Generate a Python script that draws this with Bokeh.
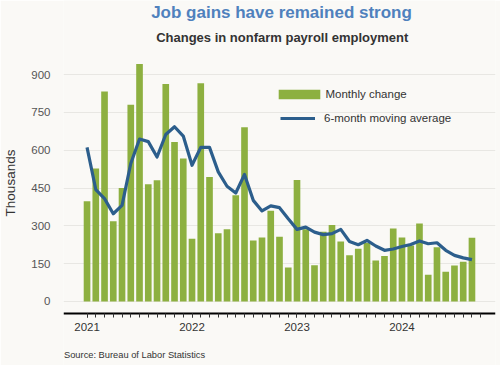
from bokeh.plotting import figure
from bokeh.models import (Range1d, FixedTicker, Legend, LegendItem, ColumnDataSource, Label)
from bokeh.embed import file_html
from bokeh.resources import INLINE

# ---- data ----
years = ["2021", "2022", "2023", "2024"]
monthly_change = [397, 527, 833, 318, 450, 780, 942, 465, 481, 862, 632, 567,
                  249, 865, 494, 271, 286, 421, 691, 242, 254, 360, 257, 135,
                  482, 286, 144, 277, 303, 238, 183, 209, 232, 163, 180, 289,
                  254, 222, 309, 106, 215, 118, 143, 158, 253]
moving_avg = [611, 444, 408, 348, 381, 547, 644, 634, 573, 662, 693, 656,
              540, 611, 611, 514, 457, 430, 504, 401, 359, 379, 372, 328,
              286, 295, 275, 265, 269, 286, 238, 225, 242, 220, 203, 208,
              218, 226, 240, 229, 233, 203, 183, 173, 166]
y_ticks = [0, 150, 300, 450, 600, 750, 900]

month_idx = list(range(len(monthly_change)))
year_ticks = [12 * i for i in range(len(years))]
src = ColumnDataSource(dict(x=month_idx, bar=monthly_change, avg=moving_avg))

BG = "#faf9f6"
GREEN = "#8db040"
BLUE = "#2c5e8c"
FONT = "Liberation Sans"
AXIS_Y = -47.6  # where the x axis line sits (data units)

# frame spans the full canvas height; titles and source sit inside it
p = figure(width=500, height=365,
           x_range=Range1d(-2.69, 46.69), y_range=Range1d(-253.8, 1193.5),
           output_backend="svg", toolbar_location=None,
           min_border_left=60, min_border_right=5, min_border_top=0, min_border_bottom=0)
p.background_fill_color = BG
p.border_fill_color = BG
p.outline_line_color = None

bars = p.vbar(x="x", top="bar", width=0.76, source=src, fill_color=GREEN, line_color=None)
line = p.line(x="x", y="avg", source=src, line_color=BLUE, line_width=3.2, line_join="round")

# axes
p.xgrid.grid_line_color = None
p.ygrid.grid_line_color = "#e8e7e3"
p.ygrid.grid_line_width = 1
p.yaxis.ticker = FixedTicker(ticks=y_ticks)
p.yaxis.axis_line_color = None
p.yaxis.major_tick_line_color = None
p.yaxis.minor_tick_line_color = None
p.yaxis.major_tick_out = 0
p.yaxis.major_tick_in = 0
p.yaxis.major_label_standoff = 13
p.yaxis.major_label_text_font = FONT
p.yaxis.major_label_text_font_size = "11.5px"
p.yaxis.major_label_text_color = "#555555"
p.yaxis.axis_label = "Thousands"
p.yaxis.axis_label_standoff = 10
p.yaxis.axis_label_text_font = FONT
p.yaxis.axis_label_text_font_size = "13.5px"
p.yaxis.axis_label_text_font_style = "normal"
p.yaxis.axis_label_text_color = "#333333"

p.xaxis.fixed_location = AXIS_Y
p.xaxis.ticker = FixedTicker(ticks=year_ticks, minor_ticks=month_idx + [len(month_idx)])
p.xaxis.major_label_overrides = {t: y for t, y in zip(year_ticks, years)}
p.xaxis.axis_line_color = "black"
p.xaxis.axis_line_width = 2
p.xaxis.major_tick_out = 4
p.xaxis.major_tick_in = 0
p.xaxis.minor_tick_out = 4
p.xaxis.minor_tick_in = 0
p.xaxis.major_tick_line_color = "#333333"
p.xaxis.minor_tick_line_color = "#333333"
p.xaxis.major_label_standoff = 6
p.xaxis.major_label_text_font = FONT
p.xaxis.major_label_text_font_size = "11.5px"
p.xaxis.major_label_text_color = "#333333"

# legends
leg1 = Legend(items=[LegendItem(label="Monthly change", renderers=[bars])],
              location=(209.5, 265), glyph_width=52, glyph_height=12, label_height=12,
              label_standoff=1, padding=0, margin=0, spacing=0,
              border_line_color=None, background_fill_alpha=0,
              label_text_font=FONT, label_text_font_size="11.5px", label_text_color="#333333")
leg2 = Legend(items=[LegendItem(label="6-month moving average", renderers=[line])],
              location=(217, 241), glyph_width=35, glyph_height=12, label_height=12,
              label_standoff=9, padding=0, margin=0, spacing=0,
              border_line_color=None, background_fill_alpha=0,
              label_text_font=FONT, label_text_font_size="11.5px", label_text_color="#333333")
p.add_layout(leg1)
p.add_layout(leg2)

# titles and source (screen units from the frame's bottom-left)
p.add_layout(Label(x=218, y=353, x_units="screen", y_units="screen",
                   text="Job gains have remained strong", text_align="center",
                   text_baseline="alphabetic", text_font=FONT, text_font_size="17px",
                   text_font_style="bold", text_color="#4f81bd"))
p.add_layout(Label(x=218.7, y=328.5, x_units="screen", y_units="screen",
                   text="Changes in nonfarm payroll employment", text_align="center",
                   text_baseline="alphabetic", text_font=FONT, text_font_size="13px",
                   text_font_style="bold", text_color="#333333"))
p.add_layout(Label(x=0.5, y=11, x_units="screen", y_units="screen",
                   text="Source: Bureau of Labor Statistics", text_align="left",
                   text_baseline="alphabetic", text_font=FONT, text_font_size="9.3px",
                   text_color="#333333"))

html = file_html(p, INLINE)
html = html.replace("<body>", '<body style="background:%s">' % BG, 1)
open("out.html", "w").write(html)
